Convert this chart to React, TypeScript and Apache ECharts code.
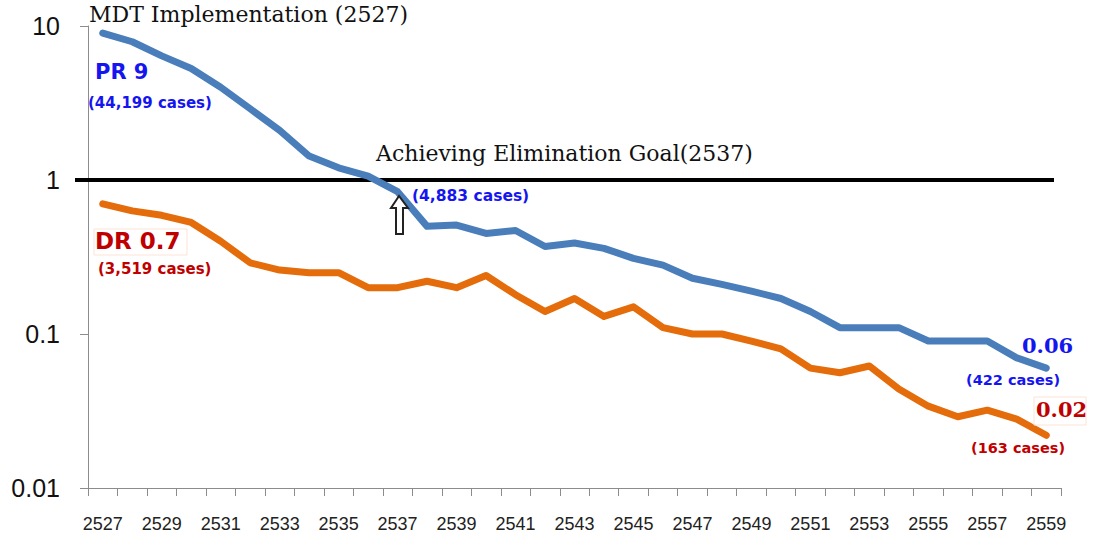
import React, { useEffect, useRef } from "react";
import * as echarts from "echarts";

const years = [
  "2527", "2528", "2529", "2530", "2531", "2532", "2533", "2534", "2535", "2536", "2537",
  "2538", "2539", "2540", "2541", "2542", "2543", "2544", "2545", "2546", "2547", "2548",
  "2549", "2550", "2551", "2552", "2553", "2554", "2555", "2556", "2557", "2558", "2559",
];
const prValues = [
  9, 7.9, 6.4, 5.3, 4.0, 2.9, 2.1, 1.43, 1.2, 1.06, 0.84,
  0.5, 0.51, 0.45, 0.47, 0.37, 0.39, 0.36, 0.31, 0.28, 0.23, 0.21,
  0.19, 0.17, 0.14, 0.11, 0.11, 0.11, 0.09, 0.09, 0.09, 0.07, 0.06,
];
const drValues = [
  0.7, 0.63, 0.59, 0.53, 0.4, 0.29, 0.26, 0.25, 0.25, 0.2, 0.2,
  0.22, 0.2, 0.24, 0.18, 0.14, 0.17, 0.13, 0.15, 0.11, 0.1, 0.1,
  0.09, 0.08, 0.06, 0.056, 0.062, 0.044, 0.034, 0.029, 0.032, 0.028, 0.022,
];
const yTicks = [0.01, 0.1, 1, 10];
const goalValue = 1;

const BLUE_LINE = "#4a7ebb";
const ORANGE_LINE = "#e46c0a";
const BLUE_TEXT = "#1515f0";
const RED_TEXT = "#c00000";
const SERIF = "'DejaVu Serif', 'Liberation Serif', serif";
const SANS = "'Liberation Sans', Arial, sans-serif";
const WIDE = "'DejaVu Sans', 'Liberation Sans', sans-serif";

export default function App() {
  const ref = useRef<HTMLDivElement>(null);
  useEffect(() => {
    if (!ref.current) return;
    const chart = echarts.init(ref.current, undefined, { renderer: "svg" });
    const txt = (x: number, y: number, text: string, font: any) => ({
      type: "text",
      x,
      y,
      style: { text, ...font },
      z: 10,
    });
    chart.setOption({
      animation: false,
      grid: { left: 88, right: 33, top: 26, bottom: 52, containLabel: false },
      xAxis: {
        type: "category",
        data: years,
        boundaryGap: true,
        axisLine: { lineStyle: { color: "#8c8c8c", width: 1 } },
        axisTick: { show: true, length: 8, lineStyle: { color: "#8c8c8c" }, interval: 0 },
        axisLabel: {
          interval: 1,
          color: "#222",
          fontSize: 18,
          fontFamily: SANS,
          margin: 27,
        },
        splitLine: { show: false },
      },
      yAxis: {
        type: "log",
        logBase: 10,
        min: 0.01,
        max: 10,
        axisLine: { show: true, lineStyle: { color: "#8c8c8c", width: 1 } },
        axisTick: { show: true, length: 8, lineStyle: { color: "#8c8c8c" } },
        minorTick: { show: false },
        splitLine: { show: false },
        axisLabel: {
          color: "#111",
          fontSize: 25,
          fontFamily: SANS,
          margin: 28,
          formatter: (v: number) => {
            const t = yTicks.find((k) => Math.abs(k - v) / k < 1e-6);
            return t === undefined ? "" : String(t);
          },
        },
      },
      series: [
        {
          name: "PR",
          type: "line",
          data: prValues,
          symbol: "none",
          lineStyle: { color: BLUE_LINE, width: 7, cap: "round", join: "round" },
          z: 3,
        },
        {
          name: "DR",
          type: "line",
          data: drValues,
          symbol: "none",
          lineStyle: { color: ORANGE_LINE, width: 7, cap: "round", join: "round" },
          z: 3,
        },
      ],
    });
    const goalY = chart.convertToPixel({ yAxisIndex: 0 }, goalValue) as number;
    chart.setOption({
      graphic: [
        {
          type: "line",
          shape: { x1: 75, y1: goalY, x2: 1054, y2: goalY },
          style: { stroke: "#000", lineWidth: 4 },
          z: 2,
        },
        txt(89, 3, "MDT Implementation (2527)", { font: `22px ${SERIF}`, fill: "#111" }),
        txt(376, 142, "Achieving Elimination Goal(2537)", { font: `22px ${SERIF}`, fill: "#111" }),
        txt(95, 61, "PR 9", { font: `bold 21px ${WIDE}`, fill: BLUE_TEXT }),
        txt(88, 95, "(44,199 cases)", { font: `bold 15px ${WIDE}`, fill: BLUE_TEXT }),
        txt(412, 188, "(4,883 cases)", { font: `bold 15.5px ${WIDE}`, fill: BLUE_TEXT }),
        {
          type: "polygon",
          shape: {
            points: [
              [399, 196], [391, 208], [396, 208], [396, 234], [403, 234], [403, 208], [408, 208],
            ],
          },
          style: { fill: "#fff", stroke: "#222", lineWidth: 2 },
          z: 10,
        },
        {
          type: "rect",
          shape: { x: 94, y: 229, width: 93, height: 26 },
          style: { fill: "none", stroke: "#fbe3d3", lineWidth: 1 },
          z: 9,
        },
        txt(95, 229, "DR 0.7", { font: `bold 23px ${WIDE}`, fill: RED_TEXT }),
        txt(98, 261, "(3,519 cases)", { font: `bold 15px ${WIDE}`, fill: RED_TEXT }),
        txt(1022, 335, "0.06", { font: `bold 21px ${SERIF}`, fill: BLUE_TEXT }),
        txt(966, 372, "(422 cases)", { font: `bold 14.5px ${WIDE}`, fill: BLUE_TEXT }),
        {
          type: "rect",
          shape: { x: 1034, y: 397, width: 52, height: 28 },
          style: { fill: "none", stroke: "#fbe3d3", lineWidth: 1 },
          z: 9,
        },
        txt(1036, 399, "0.02", { font: `bold 21px ${SERIF}`, fill: RED_TEXT }),
        txt(971, 440, "(163 cases)", { font: `bold 14.5px ${WIDE}`, fill: RED_TEXT }),
      ],
    });
    return () => chart.dispose();
  }, []);
  return <div ref={ref} style={{ width: 1094, height: 540, position: "absolute", left: 0, top: 0 }} />;
}
